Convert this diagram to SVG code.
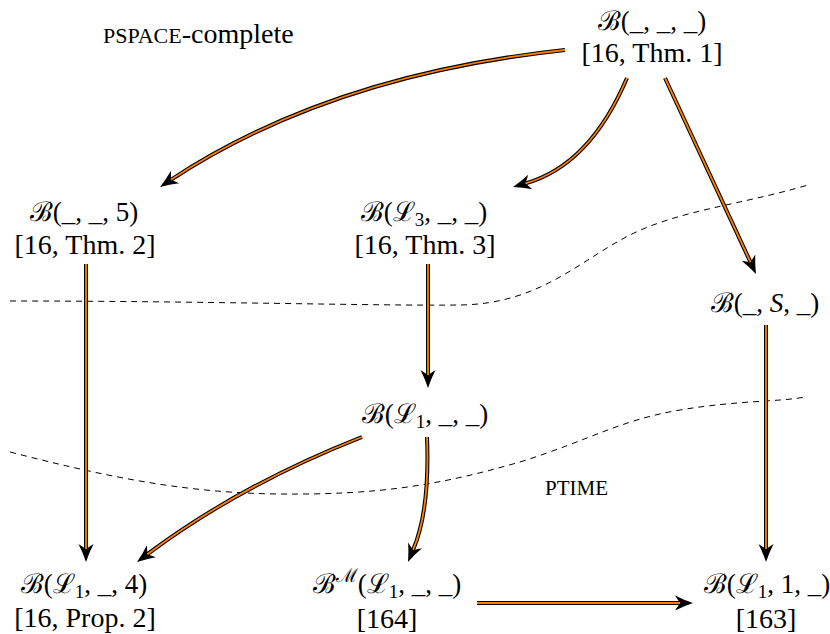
<svg xmlns="http://www.w3.org/2000/svg" width="830" height="634" viewBox="0 0 830 634">
<defs>
<marker id="ah" markerUnits="userSpaceOnUse" markerWidth="24" markerHeight="20" refX="5" refY="8" orient="auto" overflow="visible">
<path d="M0,0.5 Q9,5 18,8 Q9,11 0,15.5 L5,8 Z" fill="#000"/>
</marker>
</defs>
<style>
text{font-family:'Liberation Serif','DejaVu Serif',serif}
.t{font-size:27px;fill:#000;text-anchor:middle}
.r{font-size:28px}
.lbl{fill:#000}
.o{fill:none;stroke:#000;stroke-width:4}
.i{fill:none;stroke:#ff8000;stroke-width:1.8}
.d{fill:none;stroke:#000;stroke-width:1;stroke-dasharray:6,5}
.sub{font-size:19px}
</style>
<g id="regions">
<path class="d" d="M10,301 C200,301 380,306 460,305 C540,304 580,260 630,235 C680,210 740,205 808,185"/>
<path class="d" d="M10,452 C100,475 180,493 280,494 C380,495 440,485 520,462 C590,440 620,420 680,410 C740,400 780,402 805,397"/>
</g>
<g id="labels">
<text class="lbl" x="103" y="43" font-size="28"><tspan font-size="22">PSPACE</tspan>-complete</text>
<text class="lbl" x="545" y="495" font-size="21">PTIME</text>
</g>
<g id="connectors">
<path class="o" marker-end="url(#ah)" d="M565,50 Q330,75 170.9,179.8"/>
<path class="i" d="M565,50 Q330,75 170.9,179.8"/>
<path class="o" marker-end="url(#ah)" d="M627,78 Q590,165 525.5,183.4"/>
<path class="i" d="M627,78 Q590,165 525.5,183.4"/>
<path class="o" marker-end="url(#ah)" d="M665,78 L750.5,262.2"/>
<path class="i" d="M665,78 L750.5,262.2"/>
<path class="o" marker-end="url(#ah)" d="M86,264 L86,549"/>
<path class="i" d="M86,264 L86,549"/>
<path class="o" marker-end="url(#ah)" d="M428,264 L428,375"/>
<path class="i" d="M428,264 L428,375"/>
<path class="o" marker-end="url(#ah)" d="M766,325 L766,549"/>
<path class="i" d="M766,325 L766,549"/>
<path class="o" marker-end="url(#ah)" d="M362,437 Q240,485 147.4,554.2"/>
<path class="i" d="M362,437 Q240,485 147.4,554.2"/>
<path class="o" marker-end="url(#ah)" d="M427,437 Q430,510 413.1,550"/>
<path class="i" d="M427,437 Q430,510 413.1,550"/>
<path class="o" marker-end="url(#ah)" d="M477,603 L680,603"/>
<path class="i" d="M477,603 L680,603"/>
</g>
<g id="n_top">
<text class="t" x="652" y="30">ℬ(_, _, _)</text>
<text class="t r" x="652" y="62">[16, Thm. 1]</text>
</g>
<g id="n_b5">
<text class="t" x="84" y="221">ℬ(_, _, 5)</text>
<text class="t r" x="85" y="254">[16, Thm. 2]</text>
</g>
<g id="n_l3">
<text class="t" x="424" y="221">ℬ(ℒ<tspan class="sub" dy="5">3</tspan><tspan dy="-5">, _, _)</tspan></text>
<text class="t r" x="425" y="254">[16, Thm. 3]</text>
</g>
<g id="n_s">
<text class="t" x="765" y="312">ℬ(_, <tspan font-style="italic">S</tspan>, _)</text>
</g>
<g id="n_l1">
<text class="t" x="425" y="423">ℬ(ℒ<tspan class="sub" dy="5">1</tspan><tspan dy="-5">, _, _)</tspan></text>
</g>
<g id="n_l14">
<text class="t" x="84" y="593">ℬ(ℒ<tspan class="sub" dy="5">1</tspan><tspan dy="-5">, _, 4)</tspan></text>
<text class="t r" x="85" y="627">[16, Prop. 2]</text>
</g>
<g id="n_m">
<text class="t" x="387" y="593">ℬ<tspan class="sub" dy="-11">ℳ</tspan><tspan dy="11">(ℒ</tspan><tspan class="sub" dy="5">1</tspan><tspan dy="-5">, _, _)</tspan></text>
<text class="t r" x="387" y="628">[164]</text>
</g>
<g id="n_l11">
<text class="t" x="767" y="593">ℬ(ℒ<tspan class="sub" dy="5">1</tspan><tspan dy="-5">, 1, _)</tspan></text>
<text class="t r" x="766" y="628">[163]</text>
</g>
</svg>
